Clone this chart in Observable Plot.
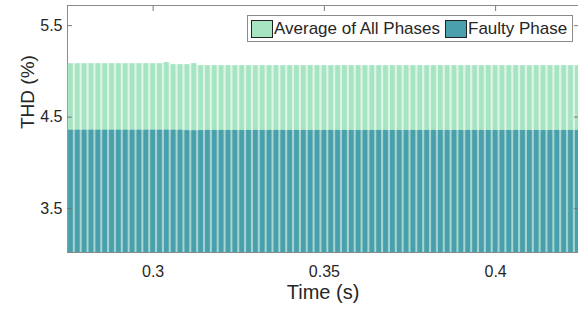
<!DOCTYPE html>
<html>
<head>
<meta charset="utf-8">
<script src="https://cdn.jsdelivr.net/npm/d3@7"></script>
<script src="https://cdn.jsdelivr.net/npm/@observablehq/plot@0.6"></script>
<style>
  body { margin: 0; background: #fff; }
  #wrap { position: relative; width: 578px; height: 309px; font-family: "Liberation Sans", Arial, sans-serif; }
  #legend { position: absolute; left: 247px; top: 15px; height: 25px; padding: 0 5px 0 3px; border: 1px solid #8a8a8a; background: #fff;
            display: flex; align-items: center; font-size: 17px; color: #262626; white-space: nowrap; }
  .sw { width: 22px; height: 18px; border: 1.5px solid #222; margin-right: 1px; box-sizing: border-box; }
  .item { display: flex; align-items: center; margin-right: 5px; }
  .item:last-child { margin-right: 0; }
</style>
</head>
<body>
<div id="wrap"><div id="legend"></div></div>
<script>
// bar centre times (s)
const times = [0.276,0.278,0.280,0.282,0.284,0.286,0.288,0.290,0.292,0.294,0.296,0.298,0.300,0.302,0.304,0.306,0.308,0.310,0.312,0.314,
  0.316,0.318,0.320,0.322,0.324,0.326,0.328,0.330,0.332,0.334,0.336,0.338,0.340,0.342,0.344,0.346,0.348,0.350,0.352,0.354,
  0.356,0.358,0.360,0.362,0.364,0.366,0.368,0.370,0.372,0.374,0.376,0.378,0.380,0.382,0.384,0.386,0.388,0.390,0.392,0.394,
  0.396,0.398,0.400,0.402,0.404,0.406,0.408,0.410,0.412,0.414,0.416,0.418,0.420,0.422,0.424];
// THD average of all phases (%)
const avgTHD = [5.083,5.083,5.083,5.083,5.083,5.083,5.083,5.083,5.083,5.083,5.083,5.083,5.083,5.083,5.095,5.073,5.073,5.073,5.085,5.062,
  5.062,5.062,5.062,5.062,5.062,5.062,5.062,5.062,5.062,5.062,5.062,5.062,5.062,5.062,5.062,5.062,5.062,5.062,5.062,5.062,
  5.062,5.062,5.062,5.062,5.062,5.062,5.062,5.062,5.062,5.062,5.062,5.062,5.062,5.062,5.062,5.062,5.062,5.062,5.062,5.062,
  5.062,5.062,5.062,5.062,5.062,5.062,5.062,5.062,5.062,5.062,5.062,5.062,5.062,5.062,5.062];
// THD faulty phase (%)
const faultyTHD = [4.356,4.356,4.356,4.356,4.356,4.356,4.356,4.356,4.356,4.356,4.356,4.356,4.356,4.356,4.356,4.356,4.356,4.352,4.350,4.352,
  4.354,4.354,4.354,4.354,4.354,4.354,4.354,4.354,4.354,4.354,4.354,4.354,4.354,4.354,4.354,4.354,4.354,4.354,4.354,4.354,
  4.354,4.354,4.354,4.354,4.354,4.354,4.354,4.354,4.354,4.354,4.354,4.354,4.354,4.354,4.354,4.354,4.354,4.354,4.354,4.354,
  4.354,4.354,4.354,4.354,4.354,4.354,4.354,4.354,4.354,4.354,4.354,4.354,4.354,4.354,4.354];
const seriesNames = ["Average of All Phases", "Faulty Phase"];
const xTicks = [0.3, 0.35, 0.4];
const yTicks = [3.5, 4.5, 5.5];
const xLabel = "Time (s)";
const yLabel = "THD (%)";

const colors = ["#a6e4c2", "#4a9fac"];
const halfStep = 0.001;

const avgData = times.map((t, i) => ({t, v: avgTHD[i]}));
const faultData = times.map((t, i) => ({t, v: faultyTHD[i]}));

function bars(data, color) {
  const opts = {x1: d => d.t - halfStep, x2: d => d.t + halfStep, y1: 0, y2: "v", clip: true};
  return [
    Plot.rectY(data, {...opts, fill: color, fillOpacity: 0.4}),
    Plot.rectY(data, {...opts, fill: color, insetLeft: 1.1, insetRight: 1.1})
  ];
}

const chart = Plot.plot({
  width: 578, height: 309,
  marginLeft: 67, marginRight: 0, marginTop: 5, marginBottom: 57,
  style: {fontFamily: "'Liberation Sans', Arial, sans-serif", fontSize: "14px", color: "#262626", background: "#fff"},
  x: {domain: [0.275, 0.4242]},
  y: {domain: [3.02, 5.72]},
  marks: [
    Plot.frame({stroke: "#8a8a8a", insetRight: -5}),
    ...bars(avgData, colors[0]),
    ...bars(faultData, colors[1]),
    Plot.axisX({ticks: xTicks, tickSize: 0, tickPadding: 13, tickFormat: d => String(d), label: null, fontSize: 16}),
    Plot.axisX({anchor: "top", ticks: xTicks, tickSize: -5, text: null, label: null, stroke: "#777"}),
    Plot.axisY({ticks: yTicks, tickSize: 0, tickPadding: 5, tickFormat: d => d.toFixed(1), label: null, fontSize: 16}),
    Plot.axisY({ticks: yTicks, tickSize: -5, text: null, label: null, stroke: "#777"}),
    Plot.axisY({anchor: "right", ticks: yTicks, tickSize: -5, text: null, label: null, stroke: "#777"}),
    Plot.text([xLabel], {frameAnchor: "bottom", dy: 46, fontSize: 20, fill: "#262626"}),
    Plot.text([yLabel], {frameAnchor: "left", dx: -40, rotate: -90, fontSize: 19, fill: "#262626"})
  ]
});
document.getElementById("wrap").prepend(chart);

const legend = document.getElementById("legend");
seriesNames.forEach((name, i) => {
  const item = document.createElement("div");
  item.className = "item";
  const sw = document.createElement("div");
  sw.className = "sw";
  sw.style.background = colors[i];
  const label = document.createElement("span");
  label.textContent = name;
  item.append(sw, label);
  legend.append(item);
});
</script>
</body>
</html>
